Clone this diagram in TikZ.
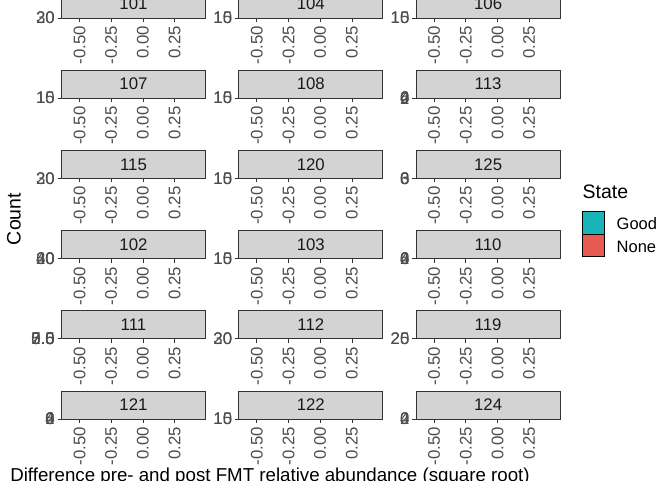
\documentclass[tikz,border=0pt]{standalone}
\usepackage{fontspec}
\setmainfont{Liberation Sans}
\definecolor{goodfill}{HTML}{1AB3B8}
\definecolor{nonefill}{HTML}{E65A52}
\definecolor{stripgrey}{HTML}{D3D3D3}
\definecolor{grey20}{HTML}{333333}
\definecolor{grey30}{HTML}{4D4D4D}

\begin{document}
\begin{tikzpicture}[x=1pt, y=-1pt,
    strip/.style={draw=grey20, fill=stripgrey, line width=0.7pt, minimum width=144, minimum height=28, inner sep=0pt, text=black!90, font=\fontsize{16.8}{20}\selectfont},
    xtick/.style={text=grey30, rotate=90, anchor=east, inner sep=0pt, font=\fontsize{16.8}{20}\selectfont},
    ytick/.style={text=grey30, anchor=east, inner sep=0pt, font=\fontsize{16.8}{20}\selectfont},
    tickmark/.style={draw=grey20, line width=0.7pt},
    axtitle/.style={inner sep=0pt, font=\fontsize{19.5}{23}\selectfont},
    legkey/.style={draw=black, line width=0.8pt, minimum size=22.5, inner sep=0pt},
    leglabel/.style={anchor=base west, inner sep=0pt, font=\fontsize{16.5}{19}\selectfont},
  ]

    \useasboundingbox (0,0) rectangle (672,480);
    \clip (0,0) rectangle (672,480);

    % one collapsed facet per entry: column, row, id, overlapping y labels
    \foreach \c/\r/\lab/\yl in {0/0/101/{20,30}, 1/0/104/{10,15}, 2/0/106/{10,15},
        0/1/107/{10,15}, 1/1/108/{10,15}, 2/1/113/{0,2,4,6},
        0/2/115/{20,30}, 1/2/120/{10,15}, 2/2/125/{0,3,6},
        0/3/102/{20,40,60}, 1/3/103/{10,15}, 2/3/110/{0,2,4,6},
        0/4/111/{0.0,2.5,5.0,7.5}, 1/4/112/{20,30}, 2/4/119/{20,25},
        0/5/121/{0,2,4,6}, 1/5/122/{10,15}, 2/5/124/{0,2,4}}
    {
        \pgfmathsetmacro\L{61.5+177.3*\c}
        \pgfmathsetmacro\B{18+80.2*\r}
        \node[strip] (s\lab) at (\L+72,\B-14) {\lab};
        \foreach \v [count=\i] in {-0.50,-0.25,0.00,0.25} {
            \pgfmathsetmacro\X{\L+18+31.7*(\i-1)}
            \draw[tickmark] (\X,\B) -- (\X,\B+4);
            \node[xtick] (x\lab-\i) at (\X,\B+8) {\v};
        }
        \draw[tickmark] (\L-4,\B) -- (\L,\B);
        \foreach \t [count=\k] in \yl {
            \node[ytick] (y\lab-\k) at (\L-6.5,\B) {\t};
        }
    }

    \node[axtitle, rotate=90] (ylab) at (14,219) {Count};
    \node[axtitle, anchor=base, font=\fontsize{18.7}{22}\selectfont] (xlab) at (270,481) {Difference pre- and post FMT relative abundance (square root)};

    % legend
    \node[axtitle, anchor=base west] (legtitle) at (582.5,198.5) {State};
    \node[legkey, fill=goodfill] (kgood) at (593.5,222.7) {};
    \node[legkey, fill=nonefill] (knone) at (593.5,245.2) {};
    \node[leglabel] (lgood) at (616.5,229) {Good};
    \node[leglabel] (lnone) at (616.5,252.5) {None};

\end{tikzpicture}
\end{document}
